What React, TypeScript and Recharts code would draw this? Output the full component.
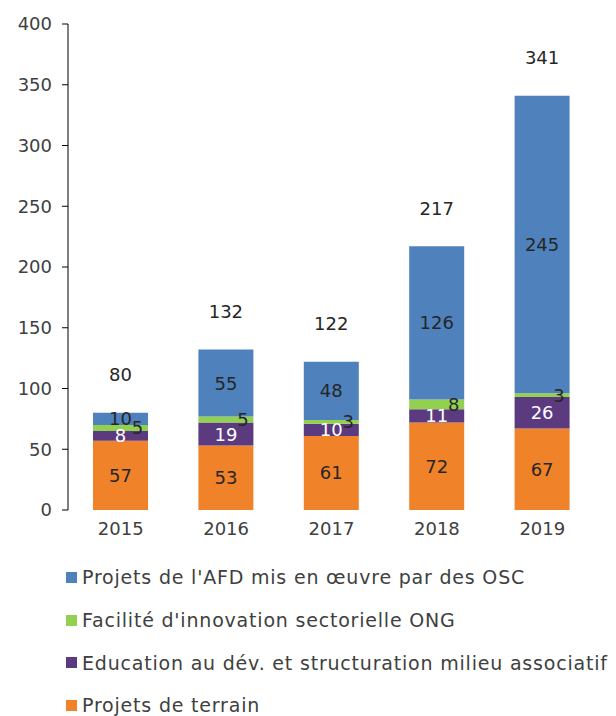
import { Bar, BarChart, LabelList, XAxis, YAxis } from "recharts";

const years = ["2015", "2016", "2017", "2018", "2019"];
const terrain = [57, 53, 61, 72, 67];
const education = [8, 19, 10, 11, 26];
const facilite = [5, 5, 3, 8, 3];
const afd = [10, 55, 48, 126, 245];
const totals = [80, 132, 122, 217, 341];
const yTicks = [0, 50, 100, 150, 200, 250, 300, 350, 400];
const edgeTicks = [0, 1, 2, 3, 4, 5];

const data = years.map((year, i) => ({
  year,
  terrain: terrain[i],
  education: education[i],
  facilite: facilite[i],
  afd: afd[i],
  total: totals[i],
}));

const FONT = "'Century Gothic', 'DejaVu Sans', sans-serif";
const TEXT = "#404040";

const series = [
  { key: "afd", name: "Projets de l'AFD mis en œuvre par des OSC", color: "#4f81bd" },
  { key: "facilite", name: "Facilité d'innovation sectorielle ONG", color: "#92d050" },
  { key: "education", name: "Education au dév. et structuration milieu associatif", color: "#5b3a80" },
  { key: "terrain", name: "Projets de terrain", color: "#f0822a" },
];

const segLabel = (color: string, dx = 0) => (props: any) => {
  const { x, y, width, height, value } = props;
  return (
    <text
      x={x + width / 2 + dx}
      y={y + height / 2}
      textAnchor="middle"
      dominantBaseline="central"
      fill={color}
      fontSize={18}
      fontFamily={FONT}
    >
      {value}
    </text>
  );
};

const totalLabel = (props: any) => {
  const { x, y, width, value } = props;
  return (
    <text
      x={x + width / 2}
      y={y - 38}
      textAnchor="middle"
      dominantBaseline="central"
      fill="#262626"
      fontSize={18}
      fontFamily={FONT}
    >
      {value}
    </text>
  );
};

export default function App() {
  return (
    <div style={{ position: "absolute", left: 0, top: 0, width: 616, height: 716, background: "#fff", fontFamily: FONT }}>
      <BarChart
        width={616}
        height={545}
        data={data}
        margin={{ top: 24, right: 21, bottom: 0, left: 0 }}
        barSize={55}
      >
        <XAxis
          xAxisId="edges"
          type="number"
          domain={[0, 5]}
          ticks={edgeTicks}
          tickFormatter={() => ""}
          height={0}
          axisLine={{ stroke: "#000" }}
          tickLine={{ stroke: "#000" }}
          tickSize={6}
        />
        <XAxis
          xAxisId="cat"
          dataKey="year"
          height={35}
          axisLine={false}
          tickLine={false}
          tick={{ fontSize: 18, fill: TEXT, fontFamily: FONT }}
          tickMargin={6}
        />
        <YAxis
          domain={[0, 400]}
          ticks={yTicks}
          width={68}
          axisLine={{ stroke: "#000" }}
          tickLine={{ stroke: "#000" }}
          tickSize={6}
          tickMargin={10}
          tick={{ fontSize: 18, fill: TEXT, fontFamily: FONT }}
        />
        <Bar xAxisId="cat" dataKey="terrain" stackId="a" fill="#f0822a" isAnimationActive={false}>
          <LabelList dataKey="terrain" content={segLabel("#262626")} />
        </Bar>
        <Bar xAxisId="cat" dataKey="education" stackId="a" fill="#5b3a80" isAnimationActive={false}>
          <LabelList dataKey="education" content={segLabel("#ffffff")} />
        </Bar>
        <Bar xAxisId="cat" dataKey="facilite" stackId="a" fill="#92d050" isAnimationActive={false}>
          <LabelList dataKey="facilite" content={segLabel("#262626", 17)} />
        </Bar>
        <Bar xAxisId="cat" dataKey="afd" stackId="a" fill="#4f81bd" isAnimationActive={false}>
          <LabelList dataKey="afd" content={segLabel("#262626")} />
          <LabelList dataKey="total" content={totalLabel} />
        </Bar>
      </BarChart>
      <div style={{ position: "absolute", left: 66, top: 556 }}>
        {series.map((s) => (
          <div key={s.key} style={{ display: "flex", alignItems: "center", height: 42.7 }}>
            <span style={{ width: 11, height: 11, background: s.color, marginRight: 5, display: "inline-block" }} />
            <span style={{ fontSize: 19, letterSpacing: 0.8, color: TEXT, whiteSpace: "nowrap" }}>{s.name}</span>
          </div>
        ))}
      </div>
    </div>
  );
}
